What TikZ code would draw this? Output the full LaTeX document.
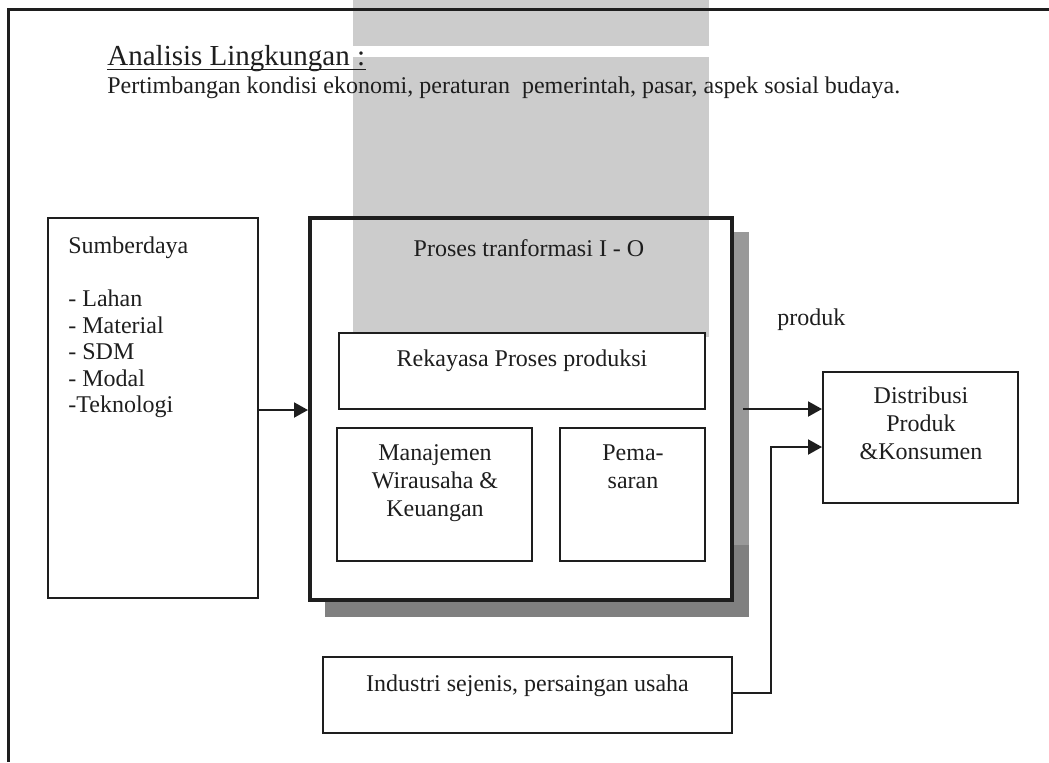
\documentclass[tikz,border=0pt]{standalone}
\usepackage{fontspec}
\setmainfont{Liberation Serif}
\usetikzlibrary{arrows.meta,calc}
\definecolor{ink}{HTML}{1E1E1E}
\definecolor{shadowA}{HTML}{999999}
\definecolor{shadowB}{HTML}{808080}
\definecolor{wm}{HTML}{CCCCCC}

\begin{document}
\begin{tikzpicture}[x=0.5pt,y=-0.5pt,
  box/.style={draw=ink, line width=1pt, inner sep=0pt},
  txt/.style={inner sep=0pt, text=ink, font=\fontsize{12}{14}\selectfont},
  arr/.style={draw=ink, line width=1pt, -{Triangle[length=7pt,width=7.5pt]}},
]
\useasboundingbox (0,0) rectangle (1049,762);

% light grey background blocks
\fill[wm] (353,0) rectangle (709,46);
\fill[wm] (353,57) rectangle (709,337);

% drop shadow of the process box
\fill[shadowA] (732,232) rectangle (749,545);
\fill[shadowB] (732,545) rectangle (749,617);
\fill[shadowB] (325,600) rectangle (749,617);

% page frame
\draw[ink, line width=1.2pt] (1049,9.5) -- (8.5,9.5) -- (8.5,762);

% boxes
\node[box, line width=0.8pt, minimum width=105pt, minimum height=190pt] (sumber) at (153,408) {};
\node[box, line width=2pt, minimum width=211pt, minimum height=191pt] (proses) at (521,409) {};
\node[box, fill=white, minimum width=183pt, minimum height=38pt] (rekayasa) at (522,371) {};
\node[box, minimum width=97.5pt, minimum height=66.5pt] (manajemen) at (434.5,494.5) {};
\node[box, minimum width=72.5pt, minimum height=66.5pt] (pemasaran) at (632.5,494.5) {};
\node[box, minimum width=97.5pt, minimum height=65.5pt] (distribusi) at (920.5,437.5) {};
\node[box, minimum width=204.5pt, minimum height=38pt] (industri) at (527.5,694.5) {};

% heading
\node[txt, anchor=base west, font=\fontsize{14.5}{16}\selectfont] (judul) at (107,65.5) {Analisis Lingkungan :};
\draw[ink, line width=0.6pt] ([yshift=-2pt]judul.base west) -- ([yshift=-2pt]judul.base east);
\node[txt, anchor=base west] (faktor) at (107,93) {Pertimbangan kondisi ekonomi, peraturan\ \ pemerintah, pasar, aspek sosial budaya.};

% box texts
\node[txt, anchor=base west, font=\fontsize{12}{13.3}\selectfont] (sumber-isi) at (68,253.3)
  {\begin{tabular}[t]{@{}l@{}}Sumberdaya\\ \\ - Lahan\\ - Material\\ - SDM\\ - Modal\\ -Teknologi\end{tabular}};
\node[txt, anchor=base] (proses-isi) at (529,256) {Proses tranformasi I - O};
\node[txt, anchor=base] (rekayasa-isi) at (522,366) {Rekayasa Proses produksi};
\node[txt, anchor=base] (manajemen-isi) at (435,460)
  {\begin{tabular}[t]{@{}c@{}}Manajemen\\ Wirausaha \&\\ Keuangan\end{tabular}};
\node[txt, anchor=base] (pemasaran-isi) at (633,460)
  {\begin{tabular}[t]{@{}c@{}}Pema-\\ saran\end{tabular}};
\node[txt, anchor=base] (distribusi-isi) at (921,403.3)
  {\begin{tabular}[t]{@{}c@{}}Distribusi\\ Produk\\ \&Konsumen\end{tabular}};
\node[txt, anchor=base] (industri-isi) at (527.5,691) {Industri sejenis, persaingan usaha};
\node[txt, anchor=base west] (produk) at (777,325) {produk};

% connectors
\draw[arr] (sumber.east |- 0,410) -- (proses.west |- 0,410);
\coordinate (keluar) at (743,409);
\draw[arr] (keluar) -- (keluar -| distribusi.west);
\coordinate (belok) at (771,447);
\draw[arr] (industri.east |- 0,693) -| (belok) -- (belok -| distribusi.west);
\end{tikzpicture}
\end{document}
